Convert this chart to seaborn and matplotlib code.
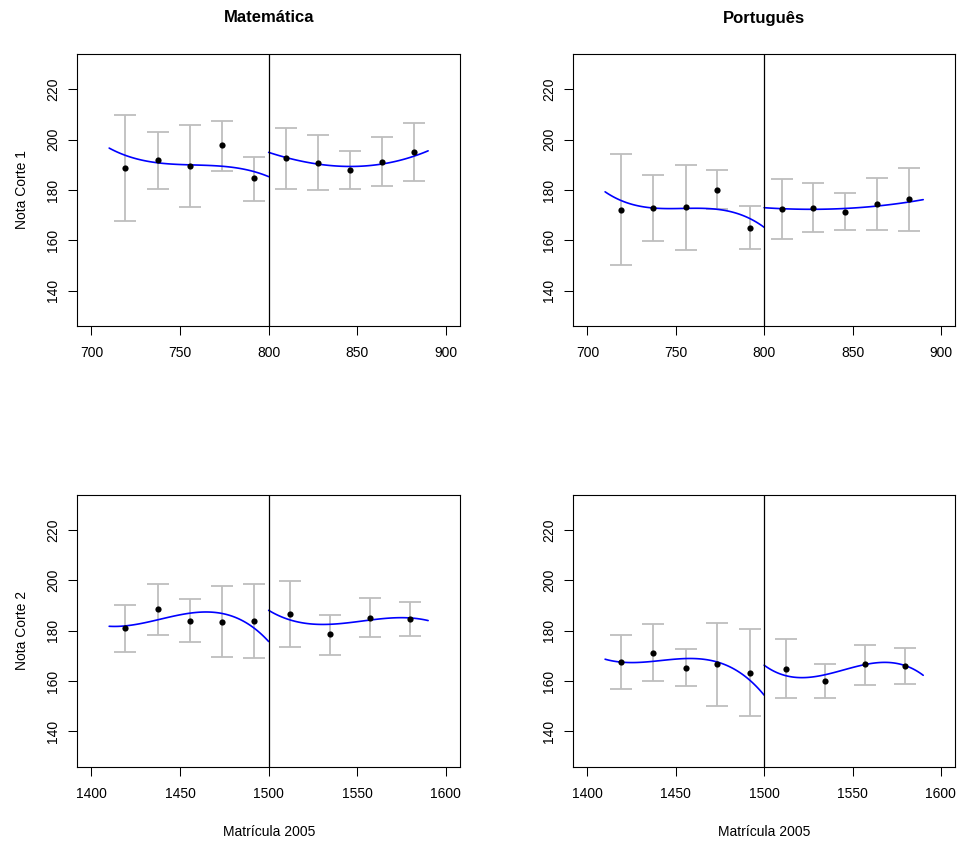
import numpy as np
import pandas as pd
import seaborn as sns
import matplotlib.pyplot as plt

# bin centres (x) for each cutoff
corte1_x = [719.2, 737.3, 755.5, 773.6, 791.8, 809.9, 827.9, 846.0, 864.1, 881.9]
corte2_x = [1419.2, 1437.3, 1455.5, 1473.6, 1491.8, 1512.1, 1534.7, 1557.1, 1579.7]

# Matemática, corte 1
mat1_y = [188.8, 191.8, 189.5, 197.7, 184.6, 192.6, 190.9, 187.9, 191.3, 195.0]
mat1_lo = [167.8, 180.5, 173.1, 187.7, 175.8, 180.5, 180.1, 180.2, 181.4, 183.5]
mat1_hi = [209.7, 203.1, 205.9, 207.4, 193.3, 204.5, 202.0, 195.5, 201.2, 206.5]

# Português, corte 1
port1_y = [172.1, 172.8, 173.1, 180.1, 164.9, 172.5, 172.8, 171.3, 174.4, 176.4]
port1_lo = [150.3, 159.6, 156.0, 172.3, 156.4, 160.6, 163.3, 164.1, 164.2, 163.8]
port1_hi = [194.1, 185.9, 190.0, 188.0, 173.5, 184.3, 182.6, 178.7, 184.7, 188.7]

# Matemática, corte 2
mat2_y = [181.0, 188.5, 184.0, 183.6, 183.9, 186.8, 178.5, 185.2, 184.6]
mat2_lo = [171.6, 178.3, 175.6, 169.5, 169.2, 173.7, 170.5, 177.6, 177.7]
mat2_hi = [190.2, 198.4, 192.5, 197.7, 198.4, 199.9, 186.4, 192.8, 191.3]

# Português, corte 2
port2_y = [167.4, 171.3, 165.3, 166.7, 163.4, 164.9, 160.0, 166.6, 166.0]
port2_lo = [156.7, 160.1, 158.0, 150.3, 146.3, 153.2, 153.2, 158.6, 158.9]
port2_hi = [178.1, 182.7, 172.7, 183.2, 180.5, 176.6, 166.7, 174.5, 173.2]

# fitted curves, read at fixed x positions on each side of the cutoff
fit1_left_x = [710, 725, 740, 755, 770, 785, 800]
fit1_right_x = [800, 815, 830, 845, 860, 875, 890]
fit2_left_x = [1410, 1425, 1440, 1455, 1470, 1485, 1500]
fit2_right_x = [1500, 1515, 1530, 1545, 1560, 1575, 1590]

mat1_fit_left = [196.5, 192.8, 190.5, 189.7, 189.7, 188.6, 185.2]
mat1_fit_right = [194.8, 192.3, 190.1, 189.0, 189.9, 192.3, 195.4]
port1_fit_left = [179.0, 175.0, 172.6, 172.2, 172.4, 171.3, 164.9]
port1_fit_right = [172.9, 172.6, 172.4, 172.4, 173.4, 174.7, 176.1]
mat2_fit_left = [181.6, 182.8, 184.8, 186.6, 187.0, 184.6, 175.5]
mat2_fit_right = [187.9, 184.2, 182.3, 182.8, 184.6, 185.4, 183.9]
port2_fit_left = [168.7, 167.3, 168.0, 169.1, 168.0, 164.0, 154.4]
port2_fit_right = [166.0, 162.4, 161.9, 163.7, 166.9, 167.7, 162.0]

sns.set_style('ticks')
plt.rcParams['font.family'] = ['Liberation Sans', 'DejaVu Sans']
plt.rcParams['text.color'] = 'black'
plt.rcParams['xtick.color'] = 'black'
plt.rcParams['ytick.color'] = 'black'
plt.rcParams['axes.labelcolor'] = 'black'

W, H = 966, 841
fig = plt.figure(figsize=(W / 100, H / 100), dpi=100)


def add_ax(left, top, right, bottom):
    return fig.add_axes([left / W, 1 - bottom / H, (right - left) / W, (bottom - top) / H])


def panel(ax, x, y, lo, hi, flx, fly, frx, fry, cut, xticks):
    y = np.array(y)
    err = [y - np.array(lo), np.array(hi) - y]
    ax.errorbar(x, y, yerr=err, fmt='none', ecolor='#BEBEBE', elinewidth=1.3,
                capsize=8, capthick=1.3, zorder=1)
    sns.regplot(x=flx, y=fly, order=3, ci=None, scatter=False, truncate=True,
                color='blue', line_kws={'lw': 1.2, 'zorder': 2}, ax=ax)
    sns.regplot(x=frx, y=fry, order=3, ci=None, scatter=False, truncate=True,
                color='blue', line_kws={'lw': 1.2, 'zorder': 2}, ax=ax)
    sns.scatterplot(x=x, y=y, color='black', s=20, linewidth=0, ax=ax, zorder=3)
    ax.axvline(cut, color='black', lw=0.9, zorder=4)
    ax.set_xlim(xticks[0] - 8, xticks[-1] + 8)
    ax.set_ylim(126, 234)
    ax.set_xticks(xticks)
    ax.set_yticks([140, 160, 180, 200, 220])
    ax.tick_params(axis='both', length=6.5, width=0.75, labelsize=10,
                   color='black', labelcolor='black')
    ax.tick_params(axis='x', pad=8)
    ax.tick_params(axis='y', pad=6, labelrotation=90)
    for lab in ax.get_yticklabels():
        lab.set_va('center')
    for s in ax.spines.values():
        s.set_color('black')
        s.set_linewidth(0.8)
    ax.set_xlabel('')
    ax.set_ylabel('')


ax1 = add_ax(77.3, 54, 460, 326)
ax2 = add_ax(573.3, 54, 955, 326)
ax3 = add_ax(77.3, 494.7, 460, 766.7)
ax4 = add_ax(573.3, 494.7, 955, 766.7)

t1 = [700, 750, 800, 850, 900]
t2 = [1400, 1450, 1500, 1550, 1600]
panel(ax1, corte1_x, mat1_y, mat1_lo, mat1_hi, fit1_left_x, mat1_fit_left,
      fit1_right_x, mat1_fit_right, 800, t1)
panel(ax2, corte1_x, port1_y, port1_lo, port1_hi, fit1_left_x, port1_fit_left,
      fit1_right_x, port1_fit_right, 800, t1)
panel(ax3, corte2_x, mat2_y, mat2_lo, mat2_hi, fit2_left_x, mat2_fit_left,
      fit2_right_x, mat2_fit_right, 1500, t2)
panel(ax4, corte2_x, port2_y, port2_lo, port2_hi, fit2_left_x, port2_fit_left,
      fit2_right_x, port2_fit_right, 1500, t2)

fig.text(268.7 / W, 1 - 18 / H, 'Matemática', ha='center', va='center',
         fontsize=12, fontweight='bold')
fig.text(764 / W, 1 - 18 / H, 'Português', ha='center', va='center',
         fontsize=12, fontweight='bold')

fig.text(22 / W, 1 - 190 / H, 'Nota Corte 1', rotation=90, ha='center', va='center', fontsize=10)
fig.text(22 / W, 1 - 630.7 / H, 'Nota Corte 2', rotation=90, ha='center', va='center', fontsize=10)
fig.text(268.7 / W, 1 - 832 / H, 'Matrícula 2005', ha='center', va='center', fontsize=10)
fig.text(764 / W, 1 - 832 / H, 'Matrícula 2005', ha='center', va='center', fontsize=10)

fig.savefig('out.png', dpi=100)
